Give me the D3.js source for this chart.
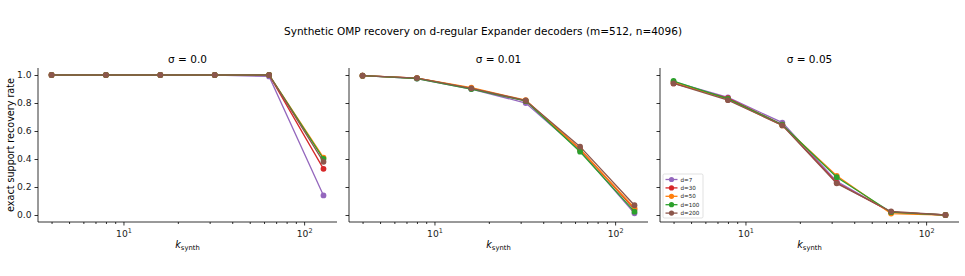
<!DOCTYPE html>
<html>
  <head>
    <meta charset="utf-8">
    <title>Synthetic OMP recovery</title>
    <script src="https://d3js.org/d3.v7.min.js"></script>
    <style>
      body { margin: 0; background: #fff; }
      svg { font-family: "DejaVu Sans", sans-serif; display: block; }
      .tick text { fill: #222; }
    </style>
  </head>
  <body>
    <svg id="chart" width="965" height="276"></svg>
    <script>
      // data
      var kValues = [4, 8, 16, 32, 64, 128];
      var degrees = ["d=7", "d=30", "d=50", "d=100", "d=200"];
      var colors = ["#9467bd", "#d62728", "#ff7f0e", "#2ca02c", "#8c564b"];
      var sigmaTitles = ["σ = 0.0", "σ = 0.01", "σ = 0.05"];
      var yTicks = [0.0, 0.2, 0.4, 0.6, 0.8, 1.0];

      // recovery rate per degree, sigma = 0.0
      var sigma000 = [
        [1.0, 1.0, 1.0, 1.0, 0.99, 0.14],
        [1.0, 1.0, 1.0, 1.0, 1.0, 0.33],
        [1.0, 1.0, 1.0, 1.0, 1.0, 0.41],
        [1.0, 1.0, 1.0, 1.0, 1.0, 0.40],
        [1.0, 1.0, 1.0, 1.0, 1.0, 0.38]
      ];
      // sigma = 0.01
      var sigma001 = [
        [0.995, 0.975, 0.90, 0.80, 0.46, 0.012],
        [0.995, 0.978, 0.905, 0.815, 0.47, 0.04],
        [0.995, 0.978, 0.91, 0.82, 0.47, 0.05],
        [0.995, 0.975, 0.90, 0.815, 0.452, 0.024],
        [0.995, 0.978, 0.905, 0.818, 0.488, 0.07]
      ];
      // sigma = 0.05
      var sigma005 = [
        [0.95, 0.84, 0.66, 0.24, 0.02, 0.0],
        [0.94, 0.835, 0.645, 0.23, 0.02, 0.0],
        [0.95, 0.825, 0.64, 0.28, 0.01, 0.0],
        [0.957, 0.83, 0.645, 0.27, 0.02, 0.0],
        [0.94, 0.82, 0.64, 0.226, 0.025, 0.0]
      ];
      var panels = [sigma000, sigma001, sigma005];

      var svg = d3.select("#chart");
      svg.append("rect").attr("width", 965).attr("height", 276).attr("fill", "#fff");

      var panelLeft = [38, 349, 660];
      var panelWidth = 299;
      var plotTop = 68, plotBottom = 222;

      svg.append("text")
        .attr("x", 483).attr("y", 35)
        .attr("text-anchor", "middle")
        .attr("font-size", 10.5)
        .text("Synthetic OMP recovery on d-regular Expander decoders (m=512, n=4096)");

      svg.append("text")
        .attr("transform", "translate(14," + ((plotTop + plotBottom) / 2) + ") rotate(-90)")
        .attr("text-anchor", "middle")
        .attr("font-size", 9.6)
        .text("exact support recovery rate");

      var y = d3.scaleLinear().domain([-0.05, 1.05]).range([plotBottom, plotTop]);

      panels.forEach(function(series, p) {
        var left = panelLeft[p];
        var x = d3.scaleLog()
          .domain([Math.pow(10, 0.527), Math.pow(10, 2.182)])
          .range([left, left + panelWidth]);
        var g = svg.append("g");

        // axes
        var yAxis = d3.axisLeft(y).tickValues(yTicks).tickSize(3.5).tickPadding(3)
          .tickFormat(p == 0 ? d3.format(".1f") : function() { return ""; });
        var ya = g.append("g").attr("transform", "translate(" + left + ",0)").call(yAxis);
        ya.select(".domain").attr("d", "M0," + plotTop + "V" + plotBottom);
        ya.selectAll(".tick text").attr("font-size", 9.2).attr("font-family", "DejaVu Sans");

        var minors = [4, 5, 6, 7, 8, 9, 20, 30, 40, 50, 60, 70, 80, 90];
        g.append("g").attr("transform", "translate(0," + plotBottom + ")")
          .call(d3.axisBottom(x).tickValues(minors).tickSize(2).tickFormat(""))
          .select(".domain").remove();
        var xa = g.append("g").attr("transform", "translate(0," + plotBottom + ")")
          .call(d3.axisBottom(x).tickValues([10, 100]).tickSize(3.5).tickPadding(3).tickFormat(""));
        xa.select(".domain").attr("d", "M" + left + ",0H" + (left + panelWidth));
        xa.selectAll(".tick").append("text")
          .attr("y", 15).attr("text-anchor", "middle").attr("font-size", 9.2).attr("fill", "#222")
          .attr("font-family", "DejaVu Sans")
          .each(function(d) {
            var t = d3.select(this);
            t.append("tspan").text("10");
            t.append("tspan").attr("dy", -4).attr("font-size", 6.5).text(d == 10 ? "1" : "2");
          });
        g.selectAll(".domain, .tick line").attr("stroke", "#000").attr("stroke-width", 0.8);

        // panel title and x label
        g.append("text")
          .attr("x", left + panelWidth / 2).attr("y", 63)
          .attr("text-anchor", "middle").attr("font-size", 10.5)
          .text(sigmaTitles[p]);
        var xl = g.append("text")
          .attr("x", left + panelWidth / 2).attr("y", 248)
          .attr("text-anchor", "middle").attr("font-size", 9.6);
        xl.append("tspan").attr("font-style", "italic").text("k");
        xl.append("tspan").attr("dy", 2).attr("font-size", 6.8).text("synth");

        // lines and markers
        var line = d3.line()
          .x(function(d, i) { return x(kValues[i]); })
          .y(function(d) { return y(d); });
        series.forEach(function(vals, s) {
          g.append("path")
            .attr("d", line(vals))
            .attr("fill", "none")
            .attr("stroke", colors[s])
            .attr("stroke-width", 1.3);
          g.selectAll(null)
            .data(vals)
            .enter().append("circle")
              .attr("cx", function(d, i) { return x(kValues[i]); })
              .attr("cy", function(d) { return y(d); })
              .attr("r", 2.9)
              .attr("fill", colors[s]);
        });

        // legend in last panel
        if (p == 2) {
          var lg = g.append("g").attr("transform", "translate(663,174)");
          lg.append("rect")
            .attr("width", 40).attr("height", 44).attr("rx", 1.5)
            .attr("fill", "#fff").attr("fill-opacity", 0.8)
            .attr("stroke", "#ccc").attr("stroke-width", 0.6);
          degrees.forEach(function(name, s) {
            var row = lg.append("g").attr("transform", "translate(0," + (5.5 + s * 8.4) + ")");
            row.append("line").attr("x1", 2.5).attr("x2", 14.5)
              .attr("stroke", colors[s]).attr("stroke-width", 1.3);
            row.append("circle").attr("cx", 8.5).attr("r", 2.6).attr("fill", colors[s]);
            row.append("text").attr("x", 17.5).attr("y", 2).attr("font-size", 5.6)
              .attr("fill", "#222").text(name);
          });
        }
      });
    </script>
  </body>
</html>
